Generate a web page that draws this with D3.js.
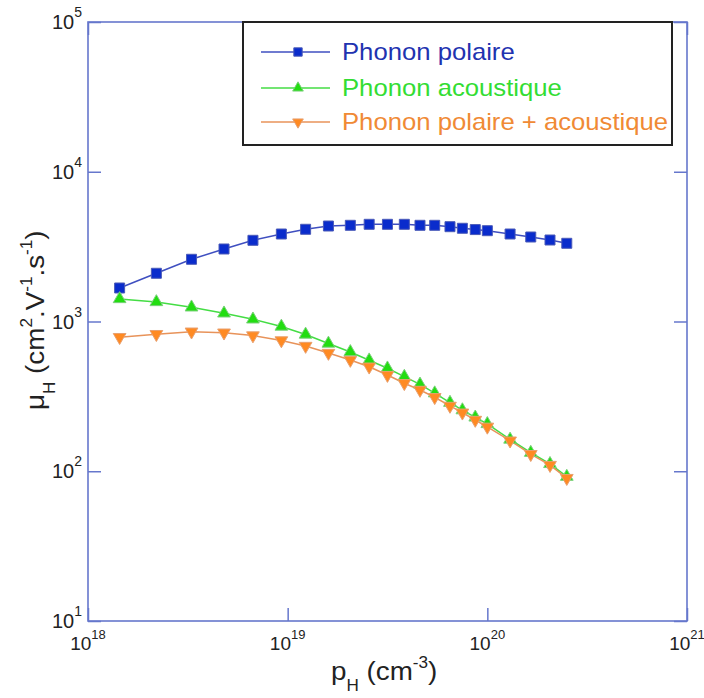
<!DOCTYPE html>
<html><head><meta charset="utf-8">
<script src="https://cdn.jsdelivr.net/npm/d3@7"></script>
<style>body{margin:0;background:#fff}svg{display:block}text{font-family:"Liberation Sans",Arial,sans-serif}</style>
</head><body><svg id="c" width="704" height="698"></svg>
<script>
const pH = [1.44e18,2.2e18,3.3e18,4.8e18,6.7e18,9.3e18,1.23e19,1.6e19,2.06e19,2.56e19,3.16e19,3.84e19,4.6e19,5.45e19,6.5e19,7.5e19,8.7e19,1.0e20,1.3e20,1.65e20,2.06e20,2.5e20];
const polaire = [1674,2099,2603,3049,3485,3839,4128,4342,4389,4457,4457,4457,4389,4389,4296,4193,4110,4040,3839,3666,3501,3329];
const acoustique = [1414,1350,1244,1134,1034,926,819,713,626,551,487,428,380,332,287,256,229,207,163,133,112,92];
const combine = [786,823,855,842,806,747,686,616,553,499,439,387,349,312,273,246,220,198,160,130,110,90];
const xTicks = [1e18,1e19,1e20,1e21];
const yTicks = [1e1,1e2,1e3,1e4,1e5];
const seriesNames = ["Phonon polaire","Phonon acoustique","Phonon polaire + acoustique"];

const svg = d3.select("#c");
const L=88,R=687,T=22,B=621;
const x = d3.scaleLog().domain([1e18,1e21]).range([L,R]);
const y = d3.scaleLog().domain([10,1e5]).range([B,T]);
const axisColor = "#6677cc";

function styleAxis(g){
  g.select(".domain").remove();
  g.selectAll("line").attr("stroke",axisColor).attr("stroke-width",1.5);
  g.selectAll("text").remove();
}
svg.append("g").attr("transform",`translate(0,${B})`).call(d3.axisBottom(x).tickValues(xTicks).tickSize(-13)).call(styleAxis);
svg.append("g").attr("transform",`translate(0,${T})`).call(d3.axisTop(x).tickValues(xTicks).tickSize(-13)).call(styleAxis);
svg.append("g").attr("transform",`translate(${L},0)`).call(d3.axisLeft(y).tickValues(yTicks).tickSize(-13)).call(styleAxis);
svg.append("g").attr("transform",`translate(${R},0)`).call(d3.axisRight(y).tickValues(yTicks).tickSize(-13)).call(styleAxis);
svg.append("rect").attr("x",L).attr("y",T).attr("width",R-L).attr("height",B-T)
  .attr("fill","none").attr("stroke",axisColor).attr("stroke-width",1.6);

// tick labels
xTicks.forEach(v=>{
  const e=Math.round(Math.log10(v));
  const t=svg.append("text").attr("x",x(v)).attr("y",650).attr("text-anchor","middle").attr("font-size",19).attr("fill","#222");
  t.append("tspan").text("10");
  t.append("tspan").attr("dy",-11).attr("font-size",13).text(e);
});
yTicks.forEach(v=>{
  const e=Math.round(Math.log10(v));
  const t=svg.append("text").attr("x",82).attr("y",y(v)+7).attr("text-anchor","end").attr("font-size",20).attr("fill","#222");
  t.append("tspan").text("10");
  t.append("tspan").attr("dy",-12).attr("font-size",14).text(e);
});

// axis titles
const xt=svg.append("text").attr("transform","translate(331,680) scale(1.07,1)").attr("font-size",26).attr("fill","#222");
xt.append("tspan").text("p");
xt.append("tspan").attr("dy",11).attr("font-size",16).text("H");
xt.append("tspan").attr("dy",-11).text("  (cm");
xt.append("tspan").attr("dy",-12).attr("font-size",16).text("-3");
xt.append("tspan").attr("dy",12).text(")");

const yt=svg.append("text").attr("transform","translate(44,410) rotate(-90) scale(1.07,1)").attr("font-size",26).attr("fill","#222");
yt.append("tspan").text("μ");
yt.append("tspan").attr("dy",11).attr("font-size",16).text("H");
yt.append("tspan").attr("dy",-11).text("  (cm");
yt.append("tspan").attr("dy",-12).attr("font-size",16).text("2");
yt.append("tspan").attr("dy",12).text(".V");
yt.append("tspan").attr("dy",-12).attr("font-size",16).text("-1");
yt.append("tspan").attr("dy",12).text(".s");
yt.append("tspan").attr("dy",-12).attr("font-size",16).text("-1");
yt.append("tspan").attr("dy",12).text(")");

const series=[
  {name:seriesNames[0],vals:polaire,line:"#3f4fc0",fill:"#0a2ccc",stroke:"#4a5ab8",sym:d3.symbolSquare,size:100,rot:0,text:"#1f33b0"},
  {name:seriesNames[1],vals:acoustique,line:"#44dd44",fill:"#22dd11",stroke:"#7ad07a",sym:d3.symbolTriangle,size:70,rot:0,text:"#33dd33"},
  {name:seriesNames[2],vals:combine,line:"#e8935a",fill:"#ff8a22",stroke:"#e8a070",sym:d3.symbolTriangle,size:70,rot:180,text:"#f08a35"}
];
const line=d3.line().x((d,i)=>x(pH[i])).y(d=>y(d));
series.forEach(s=>{
  svg.append("path").datum(s.vals).attr("d",line).attr("fill","none").attr("stroke",s.line).attr("stroke-width",1.5);
});
series.forEach(s=>{
  svg.append("g").selectAll("path").data(s.vals).join("path")
    .attr("d",d3.symbol().type(s.sym).size(s.size))
    .attr("transform",(d,i)=>`translate(${x(pH[i])},${y(d)}) rotate(${s.rot})`)
    .attr("fill",s.fill).attr("stroke",s.stroke).attr("stroke-width",1);
});

// legend
svg.append("rect").attr("x",243).attr("y",22).attr("width",429).attr("height",123)
  .attr("fill","#fff").attr("stroke","#222").attr("stroke-width",2);
series.forEach((s,i)=>{
  const cy=[52,88,122][i];
  svg.append("line").attr("x1",261).attr("x2",330).attr("y1",cy).attr("y2",cy).attr("stroke",s.line).attr("stroke-width",1.5);
  svg.append("path").attr("d",d3.symbol().type(s.sym).size(s.size*0.7)).attr("transform",`translate(298,${cy}) rotate(${s.rot})`)
    .attr("fill",s.fill).attr("stroke",s.stroke).attr("stroke-width",1);
  svg.append("text").attr("transform",`translate(342,${cy+8}) scale(1.07,1)`).attr("font-size",24).attr("fill",s.text).text(s.name);
});
</script></body></html>
